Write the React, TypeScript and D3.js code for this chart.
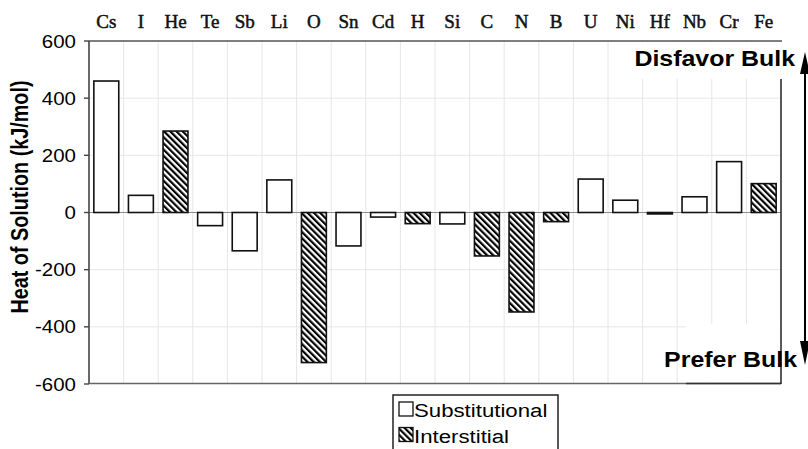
import React from "react";
import * as d3 from "d3";

const elements = ["Cs", "I", "He", "Te", "Sb", "Li", "O", "Sn", "Cd", "H", "Si", "C", "N", "B", "U", "Ni", "Hf", "Nb", "Cr", "Fe"];
const heatValues = [460, 60, 285, -46, -134, 114, -525, -117, -16, -39, -40, -152, -348, -32, 117, 43, -5, 55, 178, 101];
const siteTypes = ["S", "S", "I", "S", "S", "S", "I", "S", "S", "I", "S", "I", "I", "I", "S", "S", "S", "S", "S", "I"];
const yTicks = [-600, -400, -200, 0, 200, 400, 600];
const legendItems = [
  { key: "S", label: "Substitutional" },
  { key: "I", label: "Interstitial" },
];

const W = 808;
const H = 449;
const left = 89;
const right = 781;
const top = 41;
const bottom = 384;
const SX = 1.17; // horizontal stretch for sans labels
const SANS = "'Liberation Sans', Arial, Helvetica, sans-serif";
const SERIF = "'Liberation Serif', 'Times New Roman', serif";

function StretchText({ x, y, anchor = "start", size, weight = "normal", children }: any) {
  return (
    <text
      transform={`translate(${x},${y}) scale(${SX},1)`}
      textAnchor={anchor}
      fontFamily={SANS}
      fontSize={size}
      fontWeight={weight}
      fill="#000"
    >
      {children}
    </text>
  );
}

export default function App() {
  const x = d3.scaleBand<string>().domain(elements).range([left, right]).paddingInner(0.28).paddingOuter(0.14);
  const y = d3.scaleLinear().domain([-600, 600]).range([bottom, top]);
  const step = x.step();
  const boundaries = d3.range(1, elements.length).map((i) => left + i * step);

  return (
    <svg width={W} height={H} style={{ position: "absolute", left: 0, top: 0, background: "#fff" }}>
      <defs>
        <pattern id="hatch" patternUnits="userSpaceOnUse" width={4.4} height={4.4} patternTransform="rotate(-45)">
          <rect width={4.4} height={4.4} fill="#fff" />
          <line x1={1.1} y1={0} x2={1.1} y2={4.4} stroke="#000" strokeWidth={2.2} />
        </pattern>
      </defs>

      {/* grid */}
      <g stroke="#e6e6e6" strokeWidth={1}>
        {boundaries.map((bx, i) => (
          <line key={"v" + i} x1={bx} x2={bx} y1={top} y2={bottom} />
        ))}
        {yTicks.filter((t) => t !== 0 && t !== 600 && t !== -600).map((t) => (
          <line key={"h" + t} x1={left} x2={right} y1={y(t)} y2={y(t)} />
        ))}
      </g>

      {/* white panels behind the annotations */}
      <rect x={630} y={top + 1.5} width={right - 630 - 1} height={79 - top - 1.5} fill="#fff" />
      <rect x={686} y={324} width={right - 686 - 1} height={bottom - 324 - 1.5} fill="#fff" />

      {/* zero line */}
      <line x1={left} x2={right} y1={y(0)} y2={y(0)} stroke="#8c8c8c" strokeWidth={1.2} />

      {/* bars */}
      {elements.map((el, i) => {
        const v = heatValues[i];
        const y0 = y(Math.max(0, v));
        const y1 = y(Math.min(0, v));
        return (
          <rect
            key={el}
            x={x(el)}
            y={y0}
            width={x.bandwidth()}
            height={Math.max(y1 - y0, 0.5)}
            fill={siteTypes[i] === "I" ? "url(#hatch)" : "#fff"}
            stroke="#111"
            strokeWidth={1.6}
          />
        );
      })}

      {/* frame */}
      <line x1={left} x2={right + 1} y1={top} y2={top} stroke="#555" strokeWidth={1.5} />
      <line x1={left} x2={left} y1={top} y2={bottom} stroke="#444" strokeWidth={1.6} />
      <line x1={left} x2={right} y1={bottom - 0.5} y2={bottom - 0.5} stroke="#666" strokeWidth={1.4} />
      <line x1={686} x2={right} y1={bottom - 0.5} y2={bottom - 0.5} stroke="#333" strokeWidth={1.5} />
      <line x1={right} x2={right} y1={79} y2={bottom} stroke="#222" strokeWidth={1.5} />

      {/* y axis ticks and labels */}
      {yTicks.map((t) => (
        <g key={"t" + t}>
          <line x1={left - 5} x2={left} y1={y(t)} y2={y(t)} stroke="#444" strokeWidth={1.4} />
          <StretchText x={76} y={y(t) + 6.5} anchor="end" size={17.5}>
            {t}
          </StretchText>
        </g>
      ))}

      {/* y axis title */}
      <text
        transform={`translate(27.5,197) rotate(-90) scale(1,1.17)`}
        textAnchor="middle"
        fontFamily={SANS}
        fontSize={19.8}
        fontWeight="bold"
      >
        Heat of Solution (kJ/mol)
      </text>

      {/* element labels */}
      {elements.map((el) => (
        <text
          key={"l" + el}
          x={(x(el) as number) + x.bandwidth() / 2}
          y={28}
          textAnchor="middle"
          fontFamily={SERIF}
          fontSize={19}
          fill="#111"
          stroke="#111"
          strokeWidth={0.5}
        >
          {el}
        </text>
      ))}

      {/* annotations */}
      <StretchText x={795} y={66} anchor="end" size={21.3} weight="bold">
        Disfavor Bulk
      </StretchText>
      <StretchText x={797} y={367} anchor="end" size={21.3} weight="bold">
        Prefer Bulk
      </StretchText>
      <line x1={805} x2={805} y1={66} y2={352} stroke="#000" strokeWidth={2} />
      <path d="M805,52 L800,74 L810,74 Z" fill="#000" />
      <path d="M805,365 L800,341 L810,341 Z" fill="#000" />

      {/* legend */}
      <rect x={393} y={395} width={165} height={60} fill="#fff" stroke="#222" strokeWidth={1.5} />
      {legendItems.map((item, i) => (
        <g key={item.key}>
          <rect
            x={399}
            y={402 + i * 25.5}
            width={14}
            height={14}
            fill={item.key === "I" ? "url(#hatch)" : "#fff"}
            stroke="#111"
            strokeWidth={1.3}
          />
          <StretchText x={414} y={417 + i * 25.5} size={19}>
            {item.label}
          </StretchText>
        </g>
      ))}
    </svg>
  );
}
